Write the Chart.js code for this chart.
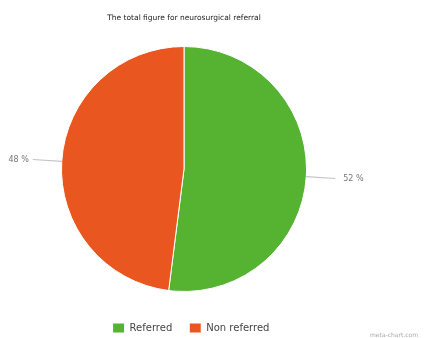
<!DOCTYPE html>
<html>
<head>
<meta charset="utf-8">
<script src="https://cdn.jsdelivr.net/npm/chart.js@4"></script>
<style>
  html, body { margin: 0; padding: 0; background: #fff; }
  #wrap { width: 428px; height: 338px; position: relative; }
</style>
</head>
<body>
<div id="wrap"><canvas id="chart"></canvas></div>
<script>
const categories = ['Referred', 'Non referred'];
const values = [52, 48];
const colors = ['#56b231', '#e9561f'];
const titleText = 'The total figure for neurosurgical referral';

// labels outside the slices with a short leader line
const sliceLabels = {
  id: 'sliceLabels',
  afterLayout(chart) {
    // nudge the legend down and a little right
    chart.legend.top += 14;
    chart.legend.bottom += 14;
    chart.legend.left += 7;
    chart.legend.right += 7;
  },
  afterDatasetsDraw(chart) {
    const ctx = chart.ctx;
    const meta = chart.getDatasetMeta(0);
    ctx.save();
    meta.data.forEach((arc, i) => {
      const mid = (arc.startAngle + arc.endAngle) / 2;
      const r = arc.outerRadius;
      const cos = Math.cos(mid), sin = Math.sin(mid);
      const x1 = arc.x + cos * r, y1 = arc.y + sin * r;
      const x2 = arc.x + cos * (r + 29), y2 = arc.y + sin * (r + 29);
      ctx.strokeStyle = '#c4c4c4';
      ctx.lineWidth = 1.2;
      ctx.beginPath();
      ctx.moveTo(x1, y1);
      ctx.lineTo(x2, y2);
      ctx.stroke();
      ctx.fillStyle = '#777';
      ctx.font = '8px "DejaVu Sans", sans-serif';
      ctx.textBaseline = 'middle';
      ctx.textAlign = cos >= 0 ? 'left' : 'right';
      ctx.fillText(values[i] + ' %', x2 + (cos >= 0 ? 8 : -4), y2);
    });
    ctx.fillStyle = '#aaa';
    ctx.font = '6px "DejaVu Sans", sans-serif';
    ctx.textAlign = 'left';
    ctx.textBaseline = 'middle';
    ctx.fillText('meta-chart.com', 370, 335);
    ctx.restore();
  }
};

new Chart(document.getElementById('chart'), {
  type: 'pie',
  data: {
    labels: categories,
    datasets: [{
      data: values,
      backgroundColor: colors,
      borderColor: '#ffffff',
      borderWidth: 1
    }]
  },
  options: {
    responsive: true,
    maintainAspectRatio: false,
    animation: false,
    layout: { padding: { left: 40, right: 100, top: 10, bottom: 9 } },
    plugins: {
      title: {
        display: true,
        text: titleText,
        color: '#222',
        font: { size: 7.5, family: '"DejaVu Sans", sans-serif', weight: 'normal' },
        padding: { top: 4, bottom: 23 }
      },
      legend: {
        position: 'bottom',
        labels: {
          boxWidth: 12,
          boxHeight: 10,
          padding: 17,
          color: '#444',
          font: { size: 10, family: '"DejaVu Sans", sans-serif' }
        }
      },
      tooltip: { enabled: false }
    }
  },
  plugins: [sliceLabels]
});
</script>
</body>
</html>
